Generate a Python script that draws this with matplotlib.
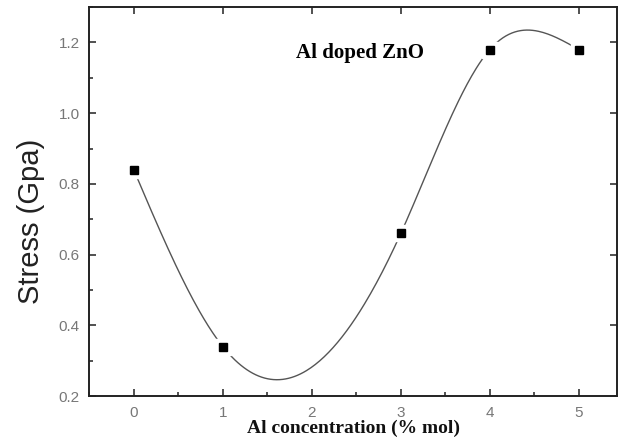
import numpy as np
import matplotlib
matplotlib.use("Agg")
import matplotlib.pyplot as plt
from matplotlib.ticker import MultipleLocator

# data
al_conc = [0, 1, 3, 4, 5]
stress = [0.84, 0.34, 0.66, 1.18, 1.18]


def natural_spline(x, y, n=300):
    # spline-connected line, like Origin's "spline" connector
    x = np.asarray(x, float)
    y = np.asarray(y, float)
    k = len(x)
    h = np.diff(x)
    A = np.zeros((k, k))
    b = np.zeros(k)
    A[0, 0] = A[-1, -1] = 1
    for i in range(1, k - 1):
        A[i, i - 1] = h[i - 1]
        A[i, i] = 2 * (h[i - 1] + h[i])
        A[i, i + 1] = h[i]
        b[i] = 6 * ((y[i + 1] - y[i]) / h[i] - (y[i] - y[i - 1]) / h[i - 1])
    m = np.linalg.solve(A, b)
    xs = np.linspace(x[0], x[-1], n)
    idx = np.clip(np.searchsorted(x, xs) - 1, 0, k - 2)
    x0, x1 = x[idx], x[idx + 1]
    hh = x1 - x0
    t0, t1 = x1 - xs, xs - x0
    ys = (m[idx] * t0**3 + m[idx + 1] * t1**3) / (6 * hh) \
        + (y[idx] / hh - m[idx] * hh / 6) * t0 \
        + (y[idx + 1] / hh - m[idx + 1] * hh / 6) * t1
    return xs, ys


fig = plt.figure(figsize=(6.24, 4.46), dpi=100)
ax = fig.add_axes([0.143, 0.112, 0.846, 0.872])

xs, ys = natural_spline(al_conc, stress)
ax.plot(xs, ys, color="#555555", lw=1.0, zorder=2)
# white halo so the line stops short of the markers
ax.plot(al_conc, stress, ls="none", marker="s", ms=11, color="white", zorder=3)
ax.plot(al_conc, stress, ls="none", marker="s", ms=6, color="black", zorder=4)

ax.set_xlim(-0.5, 5.43)
ax.set_ylim(0.2, 1.3)
ax.xaxis.set_major_locator(MultipleLocator(1))
ax.xaxis.set_minor_locator(MultipleLocator(0.5))
ax.yaxis.set_minor_locator(MultipleLocator(0.1))
ax.set_yticks([0.2, 0.4, 0.6, 0.8, 1.0, 1.2])

ax.tick_params(which="both", direction="in", top=True, right=True,
               width=1.2, colors="#333333", labelcolor="#777777", labelsize=11)
ax.tick_params(which="major", length=5, pad=7)
ax.tick_params(which="minor", length=3, top=False, right=False)

for sp in ax.spines.values():
    sp.set_linewidth(1.4)
    sp.set_color("#222222")

ax.set_ylabel("Stress (Gpa)", fontsize=21, family="Liberation Sans", color="#222222")
ax.yaxis.set_label_coords(-0.083, 0.45)
ax.set_xlabel("Al concentration (% mol)", fontsize=14, family="Liberation Serif",
              fontweight="bold", color="#111111", labelpad=0)

ax.text(2.54, 1.17, "Al doped ZnO", fontsize=15, family="Liberation Serif",
        fontweight="bold", ha="center", va="center")

for lbl in ax.get_xticklabels() + ax.get_yticklabels():
    lbl.set_family("Liberation Sans")

fig.savefig("out.png", dpi=100)
